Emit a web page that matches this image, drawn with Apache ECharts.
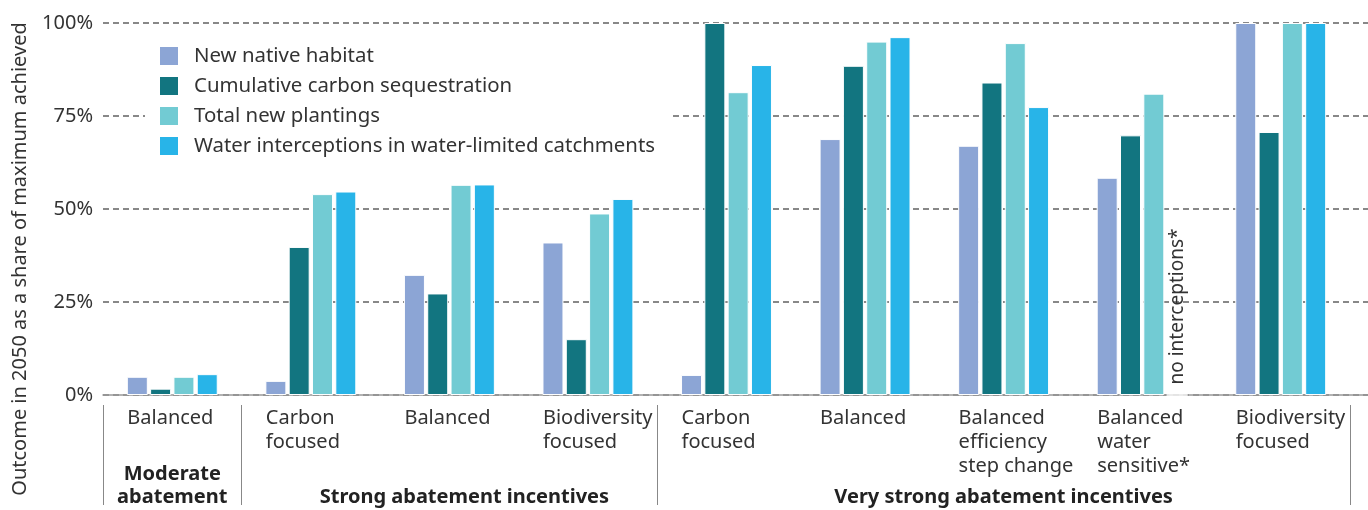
<!DOCTYPE html>
<html lang="en">
<head>
<meta charset="utf-8">
<title>Outcome in 2050 as a share of maximum achieved</title>
<script src="https://cdn.jsdelivr.net/npm/echarts@6/dist/echarts.min.js"></script>
<style>
	html, body {margin: 0; padding: 0; background: #fff;}
	#chart {width: 1368px; height: 510px;}
</style>
</head>
<body>
<div id="chart"></div>
<script>
const scenarios = ['Balanced', 'Carbon\nfocused', 'Balanced', 'Biodiversity\nfocused', 'Carbon\nfocused',
	'Balanced', 'Balanced\nefficiency\nstep change', 'Balanced\nwater\nsensitive*', 'Biodiversity\nfocused'];
// one entry per scenario, the group name sits under its middle scenario
const incentives = ['Moderate\nabatement', '', '\nStrong abatement incentives', '', '',
	'', '\nVery strong abatement incentives', '', ''];
const groupStarts = [0, 1, 4];

const seriesNames = ['New native habitat', 'Cumulative carbon sequestration', 'Total new plantings',
	'Water interceptions in water-limited catchments'];
const nativeHabitat = [4.9, 3.8, 32.3, 41.0, 5.4, 68.8, 67.0, 58.4, 100];
const carbonSequestration = [1.7, 39.8, 27.3, 15.0, 100, 88.5, 84.0, 69.8, 70.7];
const totalPlantings = [4.9, 54.0, 56.5, 48.8, 81.4, 95.0, 94.6, 81.0, 100];
const waterInterceptions = [5.6, 54.7, 56.6, 52.7, 88.7, 96.2, 77.4, null, 100];
const noDataNote = 'no interceptions*';

const yMin = 0, yMax = 100, yStep = 25;

const colors = ['#8ca5d5', '#127580', '#72cbd3', '#28b4e8'];
const font = '"Noto Sans", sans-serif';
const ink = '#333';
const rule = '#888';
const size = 20;

const plotTop = 23, plotBottom = 115, plotLeft = 103;

function bars(values, index)
{
	return {
		type: 'bar',
		name: seriesNames[index],
		barWidth: 21,
		barGap: '11%',
		itemStyle: {color: colors[index], borderColor: '#fff', borderWidth: 1},
		data: values.map(v => v === null
			? {value: 0, label: {show: true, formatter: noDataNote, position: 'top', distance: 10,
				rotate: 90, align: 'left', verticalAlign: 'middle', fontSize: 19, color: ink}}
			: v)
	};
}

const chart = echarts.init(document.getElementById('chart'));
chart.setOption({
	animation: false,
	textStyle: {fontFamily: font},
	grid: [
		{left: plotLeft, right: 18, top: plotTop, bottom: plotBottom, outerBoundsMode: 'none'},
		{left: plotLeft, right: 0, top: plotTop, bottom: plotBottom, outerBoundsMode: 'none'}
	],
	legend: {
		data: seriesNames,
		orient: 'vertical',
		left: 145,
		top: 38,
		icon: 'rect',
		itemWidth: 20,
		itemHeight: 20,
		itemGap: 8,
		backgroundColor: '#fff',
		padding: [7, 15, 7, 13],
		textStyle: {fontSize: 20.4, color: ink, padding: [0, 0, 0, 10]}
	},
	xAxis: [
		{
			type: 'category',
			data: scenarios,
			axisLine: {show: false},
			axisTick: {show: false},
			axisLabel: {
				interval: 0,
				margin: 11,
				formatter: v => v.split('\n').map(s => '{a|' + s + '}').join('\n'),
				rich: {a: {width: 90, align: 'left', fontSize: size, lineHeight: 24, color: ink, fontFamily: font}}
			}
		},
		{
			type: 'category',
			data: incentives,
			position: 'bottom',
			offset: 10,
			axisLine: {show: false},
			axisTick: {show: true, length: 100, interval: i => groupStarts.includes(i),
				lineStyle: {color: rule, width: 1}},
			axisLabel: {
				interval: 0,
				margin: 58,
				formatter: (v, i) => v && (i === 2 ? '{shift|' + v.replace('\n', '}\n{shift|') + '}' : '{g|' + v.replace('\n', '}\n{g|') + '}'),
				rich: {
					g: {fontSize: size, lineHeight: 23, fontWeight: 'bold', color: '#222', fontFamily: font},
					shift: {fontSize: size, lineHeight: 23, fontWeight: 'bold', color: '#222', fontFamily: font, padding: [0, 0, 0, 30]}
				}
			}
		},
		{
			type: 'value',
			gridIndex: 1,
			min: 0,
			max: 1,
			axisLine: {show: true, lineStyle: {color: '#999', width: 1.5}},
			axisTick: {show: false},
			axisLabel: {show: false},
			splitLine: {show: false}
		}
	],
	yAxis: [
		{
			type: 'value',
			min: yMin,
			max: yMax,
			interval: yStep,
			name: 'Outcome in 2050 as a share of maximum achieved',
			nameLocation: 'middle',
			nameGap: 73,
			nameTextStyle: {fontSize: size, color: ink, padding: [0, 100, 0, 0]},
			axisLine: {show: false},
			axisTick: {show: false},
			splitLine: {show: false},
			axisLabel: {formatter: '{value}%', fontSize: size, color: ink, margin: 10}
		},
		{
			type: 'value',
			gridIndex: 1,
			min: yMin,
			max: yMax,
			interval: yStep,
			axisLine: {show: false},
			axisTick: {show: false},
			axisLabel: {show: false},
			splitLine: {show: true, lineStyle: {color: rule, width: 2, type: [6, 4]}}
		}
	],
	series: [nativeHabitat, carbonSequestration, totalPlantings, waterInterceptions].map(bars)
});
</script>
</body>
</html>
